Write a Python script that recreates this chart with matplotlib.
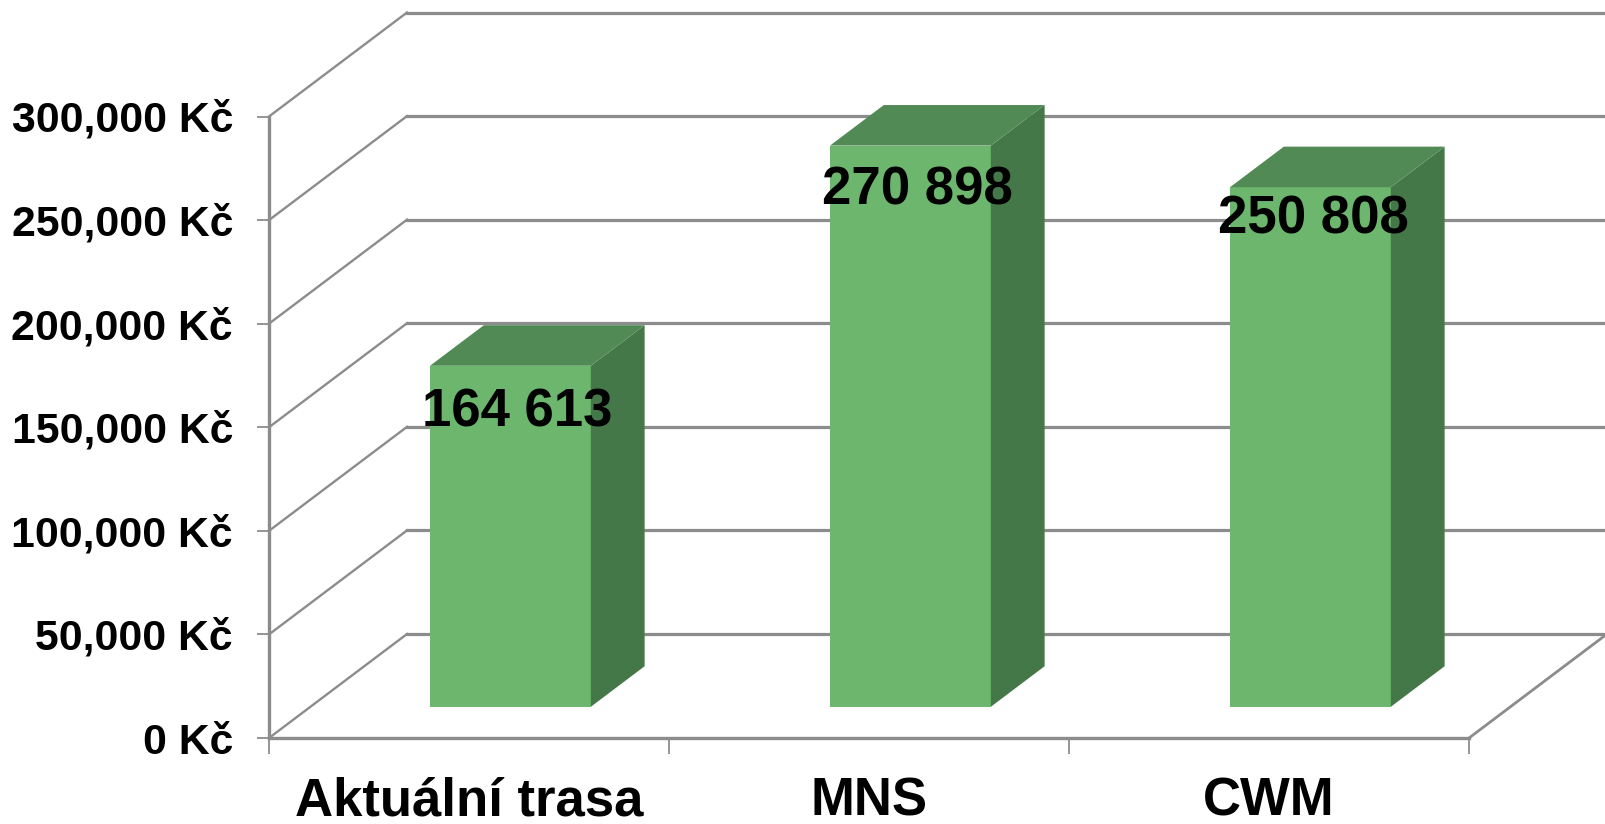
import matplotlib
matplotlib.use("Agg")
import matplotlib.pyplot as plt
import numpy as np

categories = ["Aktuální trasa", "MNS", "CWM"]
values = [164613, 270898, 250808]
value_labels = ["164 613", "270 898", "250 808"]
y_ticks = [0, 50000, 100000, 150000, 200000, 250000, 300000]
y_tick_labels = ["0 Kč", "50,000 Kč", "100,000 Kč", "150,000 Kč", "200,000 Kč", "250,000 Kč", "300,000 Kč"]

W, H = 1605, 824
GREY = "#8c8c8c"
FRONT = "#6cb66e"
TOP = "#528a56"
SIDE = "#457848"

plt.rcParams["font.family"] = ["Liberation Sans", "DejaVu Sans"]
plt.rcParams["font.weight"] = "bold"

fig = plt.figure(figsize=(W / 100, H / 100), dpi=100)
# front plane of the fake 3d box
x0, x1, y0, y1 = 269, 1469, 738, 116.5
ax = fig.add_axes([x0 / W, 1 - y0 / H, (x1 - x0) / W, (y0 - y1) / H])
ax.set_xlim(0, 3)
ax.set_ylim(0, 300000)

# depth of the box, in data units per unit of depth
DX = 138 / ((x1 - x0) / 3)
DY = 104 / ((y0 - y1) / 300000)
BAR_W = 0.402
D_FRONT = 0.30
D_BACK = 0.69

# label offsets from the top of each bar, in points (the third one sits higher)
label_dx = [5, 5, 2.5]
label_dy = [-33.5, -32.5, -23.5]


def proj(x, v, d):
	return x + d * DX, v + d * DY


def face(points, color, z):
	xs, ys = zip(*[proj(*p) for p in points])
	ax.fill(xs, ys, color=color, lw=0, zorder=z, clip_on=False)


# back wall gridlines and side wall diagonals
for v in y_ticks:
	xa, ya = proj(0, v, 0)
	xb, yb = proj(0, v, 1)
	xc, yc = proj(3, v, 1)
	ax.plot([xa, xb], [ya, yb], color=GREY, lw=1.7, zorder=1, clip_on=False)
	ax.plot([xb, xc], [yb, yc], color=GREY, lw=2.3, zorder=1, clip_on=False)

# floor edge on the right
xa, ya = proj(3, 0, 0)
xb, yb = proj(3, 0, 1)
ax.plot([xa, xb], [ya, yb], color=GREY, lw=2.0, zorder=1, clip_on=False)

for i, v in enumerate(values):
	left = i + 0.5 - BAR_W / 2
	right = left + BAR_W
	face([(left, 0, D_FRONT), (right, 0, D_FRONT), (right, v, D_FRONT), (left, v, D_FRONT)], FRONT, 3)
	face([(right, 0, D_FRONT), (right, 0, D_BACK), (right, v, D_BACK), (right, v, D_FRONT)], SIDE, 3)
	face([(left, v, D_FRONT), (right, v, D_FRONT), (right, v, D_BACK), (left, v, D_BACK)], TOP, 3)
	tx, ty = proj(i + 0.5, v, D_FRONT)
	ax.annotate(value_labels[i], (tx, ty), xytext=(label_dx[i], label_dy[i]), textcoords="offset points",
		ha="center", va="center", fontsize=38, fontweight="bold", color="black", zorder=5, annotation_clip=False)

for s in ["top", "right"]:
	ax.spines[s].set_visible(False)
for s in ["left", "bottom"]:
	ax.spines[s].set_color(GREY)
	ax.spines[s].set_linewidth(2.4)
	ax.spines[s].set_zorder(2)

ax.set_yticks(y_ticks)
ax.set_yticklabels(y_tick_labels, fontsize=30.8, fontweight="bold")
ax.set_xticks(np.arange(0, 4))
ax.set_xticklabels([])
ax.set_xticks(np.arange(0.5, 3), minor=True)
ax.set_xticklabels(categories, minor=True, fontsize=38, fontweight="bold")
ax.tick_params(axis="y", length=9, width=1.3, color=GREY, pad=17)
ax.tick_params(axis="x", which="major", length=11.5, width=1.3, color=GREY)
ax.tick_params(axis="x", which="minor", length=0, pad=27.5)

fig.savefig("out.png", dpi=100)
plt.close("all")
